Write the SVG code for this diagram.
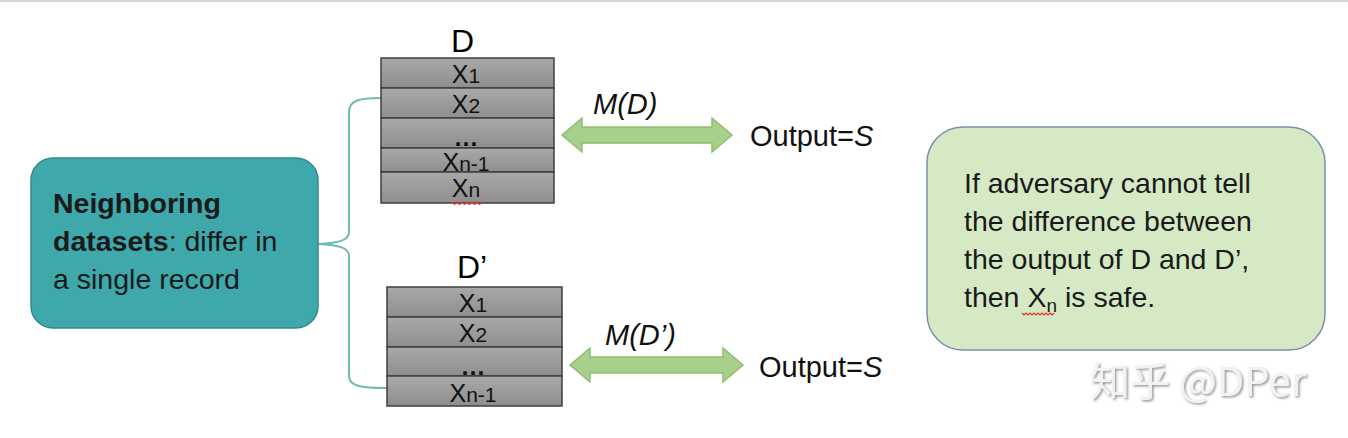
<svg xmlns="http://www.w3.org/2000/svg" width="1348" height="438" viewBox="0 0 1348 438">
<defs>
<linearGradient id="rowg" x1="0" y1="0" x2="0" y2="1">
<stop offset="0" stop-color="#a9a9a9"/>
<stop offset="1" stop-color="#8e8e8e"/>
</linearGradient>
<filter id="sh" x="-10%" y="-10%" width="120%" height="130%">
<feDropShadow dx="1.5" dy="1.5" stdDeviation="0.8" flood-color="#8a8a8a" flood-opacity="0.9"/>
</filter>
<style>
.row{fill:url(#rowg);stroke:#3f3f3f;stroke-width:1.5}
.x{font-family:"Liberation Sans",Arial,sans-serif;font-size:25px;fill:#111;text-anchor:middle}
.sub{font-size:21px}
.lbl{font-family:"Liberation Sans",Arial,sans-serif;font-size:32px;fill:#000}
.t{font-family:"Liberation Sans",Arial,sans-serif;font-size:28.5px;fill:#1a1a1a}
.it{font-family:"Liberation Sans",Arial,sans-serif;font-size:29px;font-style:italic;fill:#111}
.out{font-family:"Liberation Sans",Arial,sans-serif;font-size:29px;fill:#111}
.arrow{fill:#a8d08d;stroke:#8dbd70;stroke-width:1.5}
.brace{fill:none;stroke:#6dbcae;stroke-width:2}
.sq{fill:none;stroke:#e03030;stroke-width:1.2}
</style>
</defs>
<rect x="0" y="0" width="1348" height="438" fill="#ffffff"/>
<rect x="0" y="0" width="1348" height="2" fill="#d6d6d6"/>

<g id="connectors">
<path class="brace" d="M382,98 C360,98 349,100 349,112 L349,232 C349,240 340,243 318,244 C340,245 349,248 349,256 L349,376 C349,386 360,388 387,388"/>
<polygon class="arrow" points="562,135 582,118 582,127 712,127 712,118 732,135 712,152 712,143 582,143 582,152"/>
<polygon class="arrow" points="570,365 590,348 590,357 723,357 723,348 743,365 723,382 723,373 590,373 590,382"/>
</g>

<g id="neighboring">
<rect x="31" y="158" width="287" height="170" rx="22" fill="#3ea8ab" stroke="#2f8c8e" stroke-width="1.5"/>
<text class="t" x="53" y="213"><tspan font-weight="bold">Neighboring</tspan></text>
<text class="t" x="53" y="251"><tspan font-weight="bold">datasets</tspan>: differ in</text>
<text class="t" x="53" y="289">a single record</text>
</g>

<g id="D">
<text class="lbl" x="451" y="52">D</text>
<rect class="row" x="381" y="58" width="173" height="30"/>
<rect class="row" x="381" y="88" width="173" height="30"/>
<rect class="row" x="381" y="118" width="173" height="30"/>
<rect class="row" x="381" y="148" width="173" height="24"/>
<rect class="row" x="381" y="172" width="173" height="31"/>
<text class="x" x="466" y="83">X<tspan class="sub">1</tspan></text>
<text class="x" x="466" y="113">X<tspan class="sub">2</tspan></text>
<text class="x" x="466" y="146" font-weight="bold">…</text>
<text class="x" x="466" y="171">X<tspan class="sub">n-1</tspan></text>
<text class="x" x="466" y="197">X<tspan class="sub">n</tspan></text>
<path class="sq" d="M452,202 l2.5,2.5 l2.5,-2.5 l2.5,2.5 l2.5,-2.5 l2.5,2.5 l2.5,-2.5 l2.5,2.5 l2.5,-2.5 l2.5,2.5 l2.5,-2.5 l2.5,2.5 l2.5,-2.5"/>
</g>

<g id="Dprime">
<text class="lbl" x="457" y="278">D’</text>
<rect class="row" x="387" y="287" width="175" height="30"/>
<rect class="row" x="387" y="317" width="175" height="30"/>
<rect class="row" x="387" y="347" width="175" height="29"/>
<rect class="row" x="387" y="376" width="175" height="30"/>
<text class="x" x="473" y="312">X<tspan class="sub">1</tspan></text>
<text class="x" x="473" y="342">X<tspan class="sub">2</tspan></text>
<text class="x" x="473" y="375" font-weight="bold">…</text>
<text class="x" x="473" y="402">X<tspan class="sub">n-1</tspan></text>
</g>

<g id="mechanism-top">
<text class="it" x="593" y="114">M(D)</text>
<text class="out" x="750" y="146">Output=<tspan font-style="italic">S</tspan></text>
</g>

<g id="mechanism-bottom">
<text class="it" x="605" y="345">M(D’)</text>
<text class="out" x="759" y="377">Output=<tspan font-style="italic">S</tspan></text>
</g>

<g id="conclusion">
<rect x="927" y="127" width="398" height="223" rx="36" fill="#d5e9c4" stroke="#7d8fa8" stroke-width="1.5"/>
<text class="t" x="964" y="193">If adversary cannot tell</text>
<text class="t" x="964" y="231">the difference between</text>
<text class="t" x="964" y="269">the output of D and D’,</text>
<text class="t" x="964" y="307">then X<tspan font-size="19" dy="5">n</tspan><tspan dy="-5"> is safe.</tspan></text>
<path class="sq" d="M1022,313 l2,2 l2,-2 l2,2 l2,-2 l2,2 l2,-2 l2,2 l2,-2 l2,2 l2,-2 l2,2 l2,-2 l2,2 l2,-2 l2,2 l2,-2"/>
</g>

<g id="watermark">
<text x="1090" y="396" font-family="'Noto Sans CJK SC','Liberation Sans',sans-serif" font-size="40" fill="#f2f2f2" filter="url(#sh)">知乎 @DPer</text>
</g>
</svg>
